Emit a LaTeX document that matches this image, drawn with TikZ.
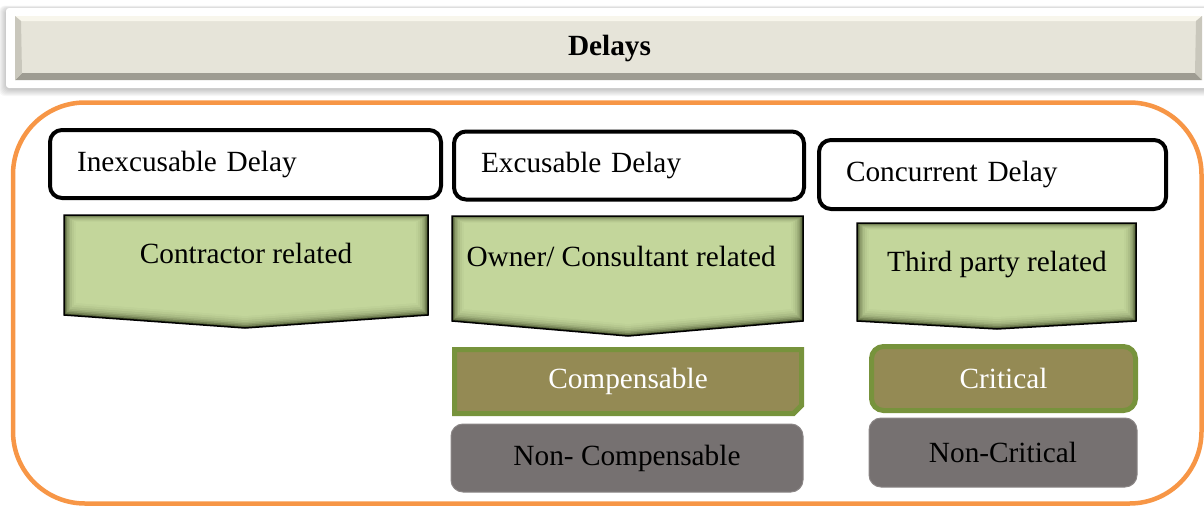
\documentclass[tikz,border=0pt]{standalone}
\usepackage{fontspec}
\setmainfont{Liberation Serif}
\usetikzlibrary{shapes.misc}

\definecolor{chevgreen}{HTML}{C3D69B}
\definecolor{chevdark}{HTML}{4A5630}
\definecolor{olivefill}{HTML}{948A54}
\definecolor{oliveedge}{HTML}{77933C}
\definecolor{slate}{HTML}{767171}
\definecolor{framecol}{HTML}{F79646}
\definecolor{bannerface}{HTML}{E6E4D9}
\definecolor{bannerhi}{HTML}{F8F6EC}
\definecolor{bannerlo}{HTML}{9E9C92}
\definecolor{bannerside}{HTML}{C9C7BC}

% down chevron: x1, x2, top, side bottom, tip x, tip y
\newcommand{\chevron}[6]{%
  \fill[chevdark] (#1,#3) -- (#2,#3) -- (#2,#4) -- (#5,#6) -- (#1,#4) -- cycle;
  \foreach \dd/\mix in {1.5/35,3/55,4.5/70,6/81,8/90,10/96,12/100}
  {
    \fill[chevgreen!\mix!chevdark] (#1+\dd,#3+0.6*\dd) -- (#2-\dd,#3+0.6*\dd) -- (#2-\dd,#4-\dd)
      -- (#5,#6-\dd) -- (#1+\dd,#4-\dd) -- cycle;
  };
  \draw[line width=1.5pt] (#1,#3) -- (#2,#3) -- (#2,#4) -- (#5,#6) -- (#1,#4) -- cycle;
}

\tikzset{
  headbox/.style={draw=black, line width=4pt, rounded corners=12pt, fill=white,
    inner xsep=27pt, inner ysep=0pt, align=left, minimum height=68pt},
  olivebox/.style={draw=oliveedge, line width=5pt, fill=olivefill, text=white,
    minimum height=64pt},
  slatebox/.style={draw=slate!85!white, line width=1pt, fill=slate,
    rounded corners=12pt, minimum height=68pt},
}

\begin{document}
\begin{tikzpicture}[x=1pt, y=-1pt, every node/.style={font=\fontsize{29.3}{35}\selectfont}]
\useasboundingbox (0,0) rectangle (1204,506);

% banner
\foreach \i in {0,...,7}
   {
	\fill[black, opacity=0.03, rounded corners=6pt] (6-\i,9-0.5*\i) rectangle (1224,89+\i);
   };
\fill[white, rounded corners=3pt] (6,8) rectangle (1224,88);
\fill[bannerface] (15,16) rectangle (1202,80);
\fill[bannerhi] (15,16) -- (1202,16) -- (1196,21) -- (21,21) -- cycle;
\fill[bannerlo] (15,80) -- (1202,80) -- (1195,73) -- (22,73) -- cycle;
\fill[bannerside] (15,16) -- (21,21) -- (22,73) -- (15,80) -- cycle;
\fill[bannerside] (1202,16) -- (1196,21) -- (1195,73) -- (1202,80) -- cycle;
\node (delays) at (609.5,48) {\bfseries Delays};

% frame
\draw[framecol, line width=4.5pt, rounded corners=72pt] (13,102.5) rectangle (1201.5,503.5);

% headings
\node[headbox, text width=337pt] (inexcusable) at (245.5,164) {Inexcusable Delay};
\node[headbox, text width=296pt] (excusable) at (629,165.5) {Excusable Delay};
\node[headbox, text width=293pt, minimum height=69pt] (concurrent) at (992.5,174.5) {Concurrent Delay};

% chevrons
\chevron{64}{428}{215}{315}{245}{328}
\chevron{452}{803}{216}{321}{628}{336}
\chevron{857}{1136}{223}{321}{997}{329}
\node[anchor=base] (contractor) at (246,263) {Contractor related};
\node[anchor=base west] (owner) at (463,266) {Owner/ Consultant related};
\node[anchor=base] (thirdparty) at (997,271) {Third party related};

% sub types
\node[olivebox, chamfered rectangle, chamfered rectangle corners=south east,
  chamfered rectangle xsep=4pt, chamfered rectangle ysep=4pt, minimum width=347pt]
  (compensable) at (628,381.5) {Compensable};
\node[slatebox, minimum width=352pt] (noncompensable) at (627,458) {Non- Compensable};
\node[olivebox, rounded corners=12pt, minimum width=264pt] (critical) at (1003.5,378.5) {Critical};
\node[slatebox, minimum width=268pt, minimum height=69pt] (noncritical) at (1003,452.5) {Non-Critical};
\end{tikzpicture}
\end{document}
